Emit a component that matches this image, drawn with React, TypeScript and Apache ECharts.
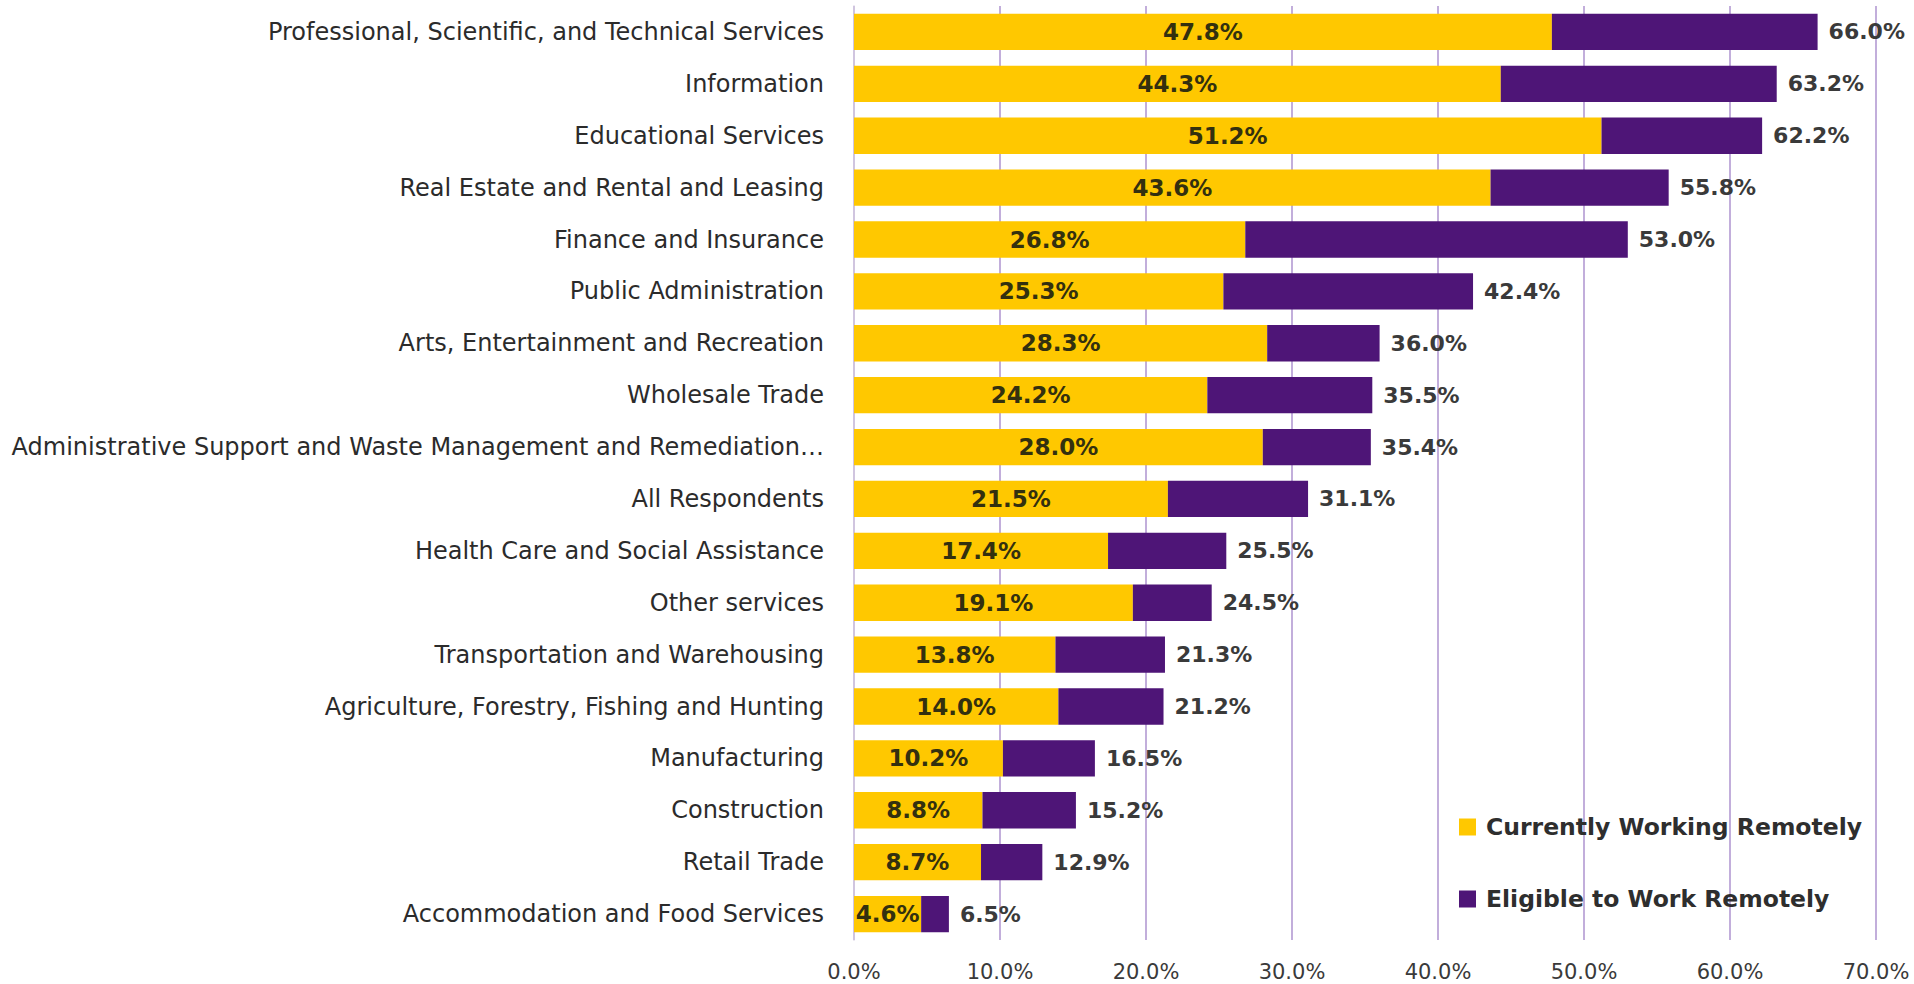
import React, { useEffect, useRef } from "react";
import * as echarts from "echarts";

const categories = [
  "Professional, Scientific, and Technical Services",
  "Information",
  "Educational Services",
  "Real Estate and Rental and Leasing",
  "Finance and Insurance",
  "Public Administration",
  "Arts, Entertainment and Recreation",
  "Wholesale Trade",
  "Administrative Support and Waste Management and Remediation…",
  "All Respondents",
  "Health Care and Social Assistance",
  "Other services",
  "Transportation and Warehousing",
  "Agriculture, Forestry, Fishing and Hunting",
  "Manufacturing",
  "Construction",
  "Retail Trade",
  "Accommodation and Food Services",
];

const currentlyRemote = [47.8, 44.3, 51.2, 43.6, 26.8, 25.3, 28.3, 24.2, 28.0, 21.5, 17.4, 19.1, 13.8, 14.0, 10.2, 8.8, 8.7, 4.6];
const eligibleRemote = [66.0, 63.2, 62.2, 55.8, 53.0, 42.4, 36.0, 35.5, 35.4, 31.1, 25.5, 24.5, 21.3, 21.2, 16.5, 15.2, 12.9, 6.5];

const seriesNames = ["Currently Working Remotely", "Eligible to Work Remotely"];
const xTicks = { min: 0, max: 70, interval: 10 };

const FONT = "'DejaVu Sans', 'Open Sans', sans-serif";

export default function App() {
  const ref = useRef<HTMLDivElement>(null);
  useEffect(() => {
    if (!ref.current) return;
    const chart = echarts.init(ref.current, undefined, { renderer: "svg" });
    const extra = eligibleRemote.map((v, i) => +(v - currentlyRemote[i]).toFixed(1));
    chart.setOption({
      animation: false,
      backgroundColor: "#ffffff",
      textStyle: { fontFamily: FONT },
      grid: { left: 854, right: 38, top: 6, bottom: 44, containLabel: false },
      legend: {
        orient: "vertical",
        left: 1454,
        top: 810,
        itemWidth: 17,
        itemHeight: 17,
        itemGap: 48,
        icon: "rect",
        textStyle: {
          fontFamily: FONT,
          fontSize: 23.5,
          lineHeight: 24,
          fontWeight: "bold",
          color: "#2e2e2e",
          padding: [0, 0, 0, 5],
        },
        data: seriesNames,
      },
      xAxis: {
        type: "value",
        min: xTicks.min,
        max: xTicks.max,
        interval: xTicks.interval,
        axisLine: { show: false },
        axisTick: { show: false },
        splitLine: { show: true, lineStyle: { color: "#ae93cf", width: 1.5 } },
        axisLabel: {
          formatter: (v: number) => v.toFixed(1) + "%",
          fontFamily: FONT,
          fontSize: 21,
          color: "#3a3a3a",
          margin: 21,
        },
      },
      yAxis: {
        type: "category",
        inverse: true,
        data: categories,
        axisLine: { show: true, lineStyle: { color: "#d4cde0", width: 1.5 } },
        axisTick: { show: false },
        axisLabel: {
          fontFamily: FONT,
          fontSize: 24,
          color: "#2b2b2b",
          margin: 30,
        },
      },
      series: [
        {
          name: seriesNames[0],
          type: "bar",
          stack: "total",
          data: currentlyRemote,
          barCategoryGap: "30%",
          itemStyle: { color: "#FFC800" },
          label: {
            show: true,
            position: "inside",
            formatter: (p: any) => p.value.toFixed(1) + "%",
            fontFamily: FONT,
            fontSize: 23,
            fontWeight: "bold",
            color: "#33300f",
          },
        },
        {
          name: seriesNames[1],
          type: "bar",
          stack: "total",
          data: extra,
          barCategoryGap: "30%",
          itemStyle: { color: "#4E1577" },
          label: {
            show: true,
            position: "right",
            distance: 11,
            formatter: (p: any) => eligibleRemote[p.dataIndex].toFixed(1) + "%",
            fontFamily: FONT,
            fontSize: 22,
            fontWeight: "bold",
            color: "#3a3a3a",
          },
        },
      ],
    });
    return () => chart.dispose();
  }, []);
  return <div ref={ref} style={{ position: "fixed", left: 0, top: 0, width: 1914, height: 984 }} />;
}
